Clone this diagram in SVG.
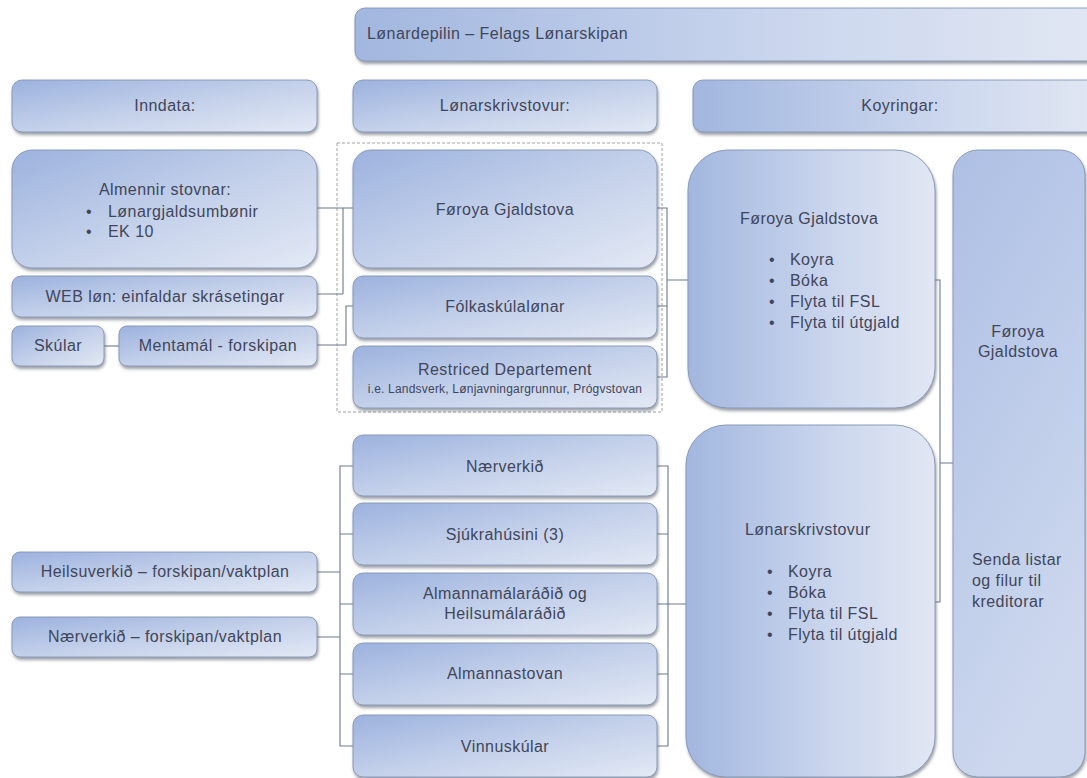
<svg xmlns="http://www.w3.org/2000/svg" width="1087" height="778" viewBox="0 0 1087 778" xml:space="preserve">
<defs>
<linearGradient id="g" x1="0" y1="0" x2="1" y2="1">
<stop offset="0" stop-color="#9cb2de"/>
<stop offset="0.5" stop-color="#c3d0ea"/>
<stop offset="1" stop-color="#e3e9f5"/>
</linearGradient>
<linearGradient id="gh" x1="0" y1="0" x2="1" y2="0">
<stop offset="0" stop-color="#a2b7df"/>
<stop offset="0.6" stop-color="#ccd7ee"/>
<stop offset="1" stop-color="#e1e7f3"/>
</linearGradient>
<linearGradient id="gt" x1="0" y1="0" x2="0.4" y2="1">
<stop offset="0" stop-color="#adbfe4"/>
<stop offset="1" stop-color="#cdd8ee"/>
</linearGradient>
<filter id="sh" x="-10%" y="-10%" width="120%" height="130%">
<feDropShadow dx="1" dy="2.5" stdDeviation="1.5" flood-color="#4a4f5c" flood-opacity="0.55"/>
</filter>
</defs>
<style>
.b{fill:url(#g);stroke:#8594b3;stroke-width:0.9;filter:url(#sh)}
.bh{fill:url(#gh);stroke:#8594b3;stroke-width:0.9;filter:url(#sh)}
.bt{fill:url(#gt);stroke:#8594b3;stroke-width:0.9;filter:url(#sh)}
text{font-family:"Liberation Sans",Arial,sans-serif;font-size:16px;fill:#41465a;letter-spacing:0.45px}
.c{text-anchor:middle}
.s{font-size:12px;letter-spacing:0.2px}
.cn{fill:none;stroke:#6f7891;stroke-width:1.1}
.dash{fill:none;stroke:#a3a3a3;stroke-width:1;stroke-dasharray:3,2}
</style>
<rect width="1087" height="778" fill="#ffffff"/>
<rect class="dash" x="337" y="143" width="325" height="269"/>
<g id="connectors">
<path class="cn" d="M317,208 H353 M343,208 V294 M317,294 H343"/>
<path class="cn" d="M317,345 H346 V306 H353"/>
<path class="cn" d="M657,208 H667 V377 H657 M657,306 H667 M667,280 H688"/>
<path class="cn" d="M935,280 H940 V602 H935 M940,463 H953"/>
<path class="cn" d="M353,466 H340 V746 H353 M340,534 H353 M340,604 H353 M340,674 H353 M317,572 H340 M317,637 H340"/>
<path class="cn" d="M657,466 H668 V746 H657 M657,534 H668 M657,604 H686 M657,674 H668"/>
<path class="cn" d="M104,346 H119"/>
</g>
<g id="title">
<rect class="bh" x="355" y="8" width="745" height="53" rx="10"/>
<text x="367" y="39">Lønardepilin  – Felags Lønarskipan</text>
</g>
<g id="hdr-inndata">
<rect class="b" x="12" y="80" width="305" height="52" rx="10"/>
<text class="c" x="165" y="111">Inndata:</text>
</g>
<g id="hdr-lonarskrivstovur">
<rect class="b" x="353" y="80" width="304" height="52" rx="10"/>
<text class="c" x="505" y="111">Lønarskrivstovur:</text>
</g>
<g id="hdr-koyringar">
<rect class="bh" x="693" y="80" width="410" height="52" rx="10"/>
<text class="c" x="900" y="111">Koyringar:</text>
</g>
<g id="almennir">
<rect class="b" x="12" y="150" width="305" height="118" rx="20"/>
<text class="c" x="165" y="195">Almennir  stovnar:</text>
<text x="86" y="217">•</text>
<text x="108" y="217">Lønargjaldsumbønir</text>
<text x="86" y="237">•</text>
<text x="108" y="237">EK 10</text>
</g>
<g id="weblon">
<rect class="b" x="12" y="276" width="305" height="41" rx="9"/>
<text class="c" x="165" y="302">WEB løn:  einfaldar skrásetingar</text>
</g>
<g id="skular">
<rect class="b" x="12" y="326" width="92" height="40" rx="8"/>
<text class="c" x="58" y="351">Skúlar</text>
</g>
<g id="mentamal">
<rect class="b" x="119" y="326" width="198" height="40" rx="8"/>
<text class="c" x="218" y="351">Mentamál - forskipan</text>
</g>
<g id="m-fg">
<rect class="b" x="353" y="150" width="304" height="118" rx="18"/>
<text class="c" x="505" y="215">Føroya Gjaldstova</text>
</g>
<g id="m-folkaskula">
<rect class="b" x="353" y="276" width="304" height="62" rx="10"/>
<text class="c" x="505" y="312">Fólkaskúlalønar</text>
</g>
<g id="m-restriced">
<rect class="b" x="353" y="346" width="304" height="62" rx="10"/>
<text class="c" x="505" y="375">Restriced Departement</text>
<text class="c s" x="505" y="393">i.e. Landsverk,  Lønjavningargrunnur,  Prógvstovan</text>
</g>
<g id="k-fg">
<rect class="bh" x="688" y="150" width="247" height="258" rx="40"/>
<text x="740" y="224">Føroya Gjaldstova</text>
<text x="769" y="265">•</text><text x="790" y="265">Koyra</text>
<text x="769" y="286">•</text><text x="790" y="286">Bóka</text>
<text x="769" y="307">•</text><text x="790" y="307">Flyta til FSL</text>
<text x="769" y="328">•</text><text x="790" y="328">Flyta til útgjald</text>
</g>
<g id="r-fg">
<rect class="bt" x="953" y="150" width="132" height="627" rx="25"/>
<text class="c" x="1018" y="337">Føroya</text>
<text class="c" x="1018" y="357">Gjaldstova</text>
<text x="972" y="565">Senda listar</text>
<text x="972" y="586">og filur til</text>
<text x="972" y="607">kreditorar</text>
</g>
<g id="narverkid">
<rect class="b" x="353" y="435" width="304" height="61" rx="10"/>
<text class="c" x="505" y="472">Nærverkið</text>
</g>
<g id="sjukrahusini">
<rect class="b" x="353" y="503" width="304" height="62" rx="10"/>
<text class="c" x="505" y="540">Sjúkrahúsini  (3)</text>
</g>
<g id="almannamalaradid">
<rect class="b" x="353" y="573" width="304" height="62" rx="10"/>
<text class="c" x="505" y="599">Almannamálaráðið  og</text>
<text class="c" x="505" y="619">Heilsumálaráðið</text>
</g>
<g id="almannastovan">
<rect class="b" x="353" y="643" width="304" height="62" rx="10"/>
<text class="c" x="505" y="679">Almannastovan</text>
</g>
<g id="vinnuskular">
<rect class="b" x="353" y="715" width="304" height="62" rx="10"/>
<text class="c" x="505" y="752">Vinnuskúlar</text>
</g>
<g id="heilsuverkid">
<rect class="b" x="12" y="552" width="305" height="40" rx="8"/>
<text class="c" x="165" y="577">Heilsuverkið – forskipan/vaktplan</text>
</g>
<g id="narverkid-forskipan">
<rect class="b" x="12" y="617" width="305" height="40" rx="8"/>
<text class="c" x="165" y="642">Nærverkið – forskipan/vaktplan</text>
</g>
<g id="k-lonarskrivstovur">
<rect class="bh" x="686" y="425" width="249" height="352" rx="40"/>
<text x="745" y="535">Lønarskrivstovur</text>
<text x="767" y="577">•</text><text x="788" y="577">Koyra</text>
<text x="767" y="598">•</text><text x="788" y="598">Bóka</text>
<text x="767" y="619">•</text><text x="788" y="619">Flyta til FSL</text>
<text x="767" y="640">•</text><text x="788" y="640">Flyta til útgjald</text>
</g>
</svg>
